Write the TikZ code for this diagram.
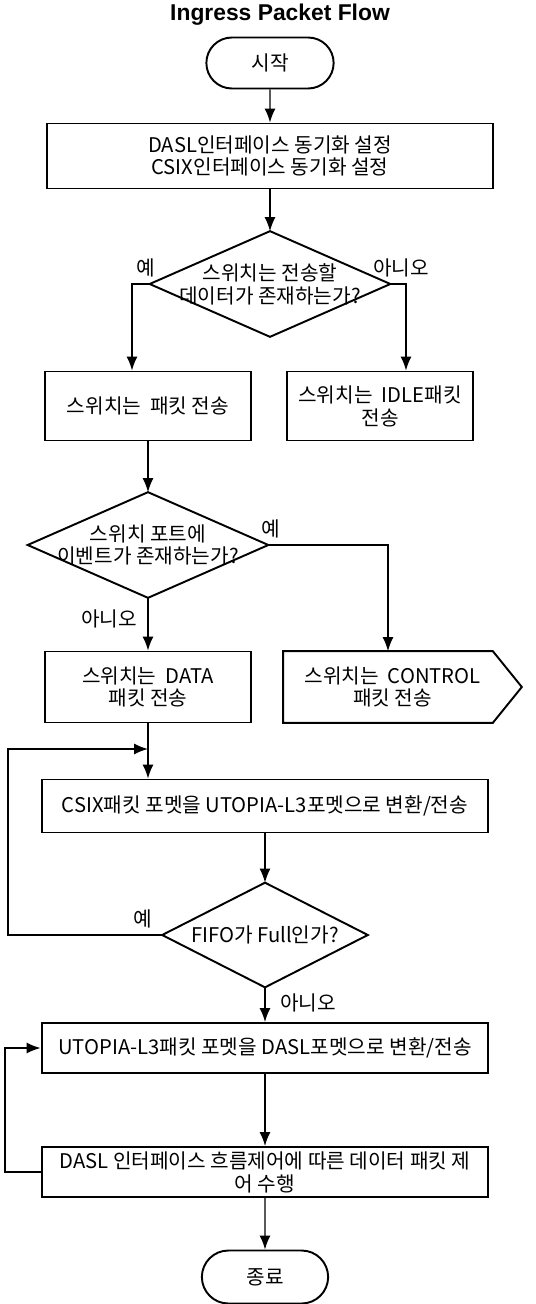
\documentclass[tikz,border=0pt]{standalone}
\usepackage{fontspec}
\setmainfont{Noto Sans CJK KR}
\newfontfamily\titlefont{Liberation Sans}
\usepackage{tikz}
\usetikzlibrary{arrows.meta,shapes.misc}

\tikzset{
  proc/.style={draw=black, line width=1.1pt, rectangle, align=center, inner sep=2pt},
  term/.style={draw=black, line width=1.1pt, rounded rectangle, minimum width=2.78cm, minimum height=1.02cm},
  decide/.style={rectangle, align=center, inner sep=0pt, minimum width=4.8cm, minimum height=2.1cm},
  flow/.style={line width=0.8pt, -{Latex[length=2.8mm,width=2.2mm]}},
  lbl/.style={inner sep=1pt}
}

\begin{document}
\begin{tikzpicture}[x=0.02cm, y=-0.02cm, font=\fontsize{11.5}{13}\selectfont]
\useasboundingbox (0,0) rectangle (535,1304);
\node (title) at (280,15) {\titlefont\bfseries\fontsize{13}{15}\selectfont Ingress Packet Flow};
\node[term] (start) at (270,63) {시작};
\node[proc, minimum width=8.94cm, minimum height=1.3cm] (init) at (270,156) {DASL인터페이스 동기화 설정\\CSIX인터페이스 동기화 설정};
\node[decide] (d1) at (270,284) {스위치는 전송할\\데이터가 존재하는가?};
\node[proc, minimum width=4.12cm, minimum height=1.38cm] (send) at (148,406) {스위치는\ \ 패킷 전송};
\node[proc, minimum width=3.72cm, minimum height=1.38cm] (idle) at (380,406) {스위치는\ \ IDLE패킷\\전송};
\node[decide] (d2) at (148,545) {스위치 포트에\\이벤트가 존재하는가?};
\node[proc, minimum width=4.12cm, minimum height=1.42cm] (data) at (148,687) {스위치는\ \ DATA\\패킷 전송};
\node[minimum width=4.18cm, minimum height=1.42cm, align=center] (ctrl) at (388,687) {\ \ 스위치는\ \ CONTROL\\\ \ 패킷 전송};
\node[proc, minimum width=8.94cm, minimum height=1.06cm] (conv1) at (265,806) {CSIX패킷 포멧을 UTOPIA-L3포멧으로 변환/전송};
\node[decide, minimum width=4.1cm, minimum height=2.08cm] (d3) at (265,935) {FIFO가 Full인가?};
\node[proc, minimum width=8.94cm, minimum height=1.0cm] (conv2) at (265,1048) {UTOPIA-L3패킷 포멧을 DASL포멧으로 변환/전송};
\node[proc, minimum width=8.94cm, minimum height=1.0cm, inner sep=1pt] (flowctl) at (265,1172) {DASL 인터페이스 흐름제어에 따른 데이터 패킷 제\\어 수행};
\node[term, minimum width=2.76cm, minimum height=1.06cm] (stop) at (265,1277) {종료};

\node[lbl] (y1) at (146,268) {예};
\node[lbl] (n1) at (401,268) {아니오};
\node[lbl] (y2) at (271,529) {예};
\node[lbl] (n2) at (109,619) {아니오};
\node[lbl] (y3) at (143,919) {예};
\node[lbl] (n3) at (308,1003) {아니오};

\foreach \d in {d1,d2,d3}
  \draw[line width=1.1pt] (\d.north) -- (\d.east) -- (\d.south) -- (\d.west) -- cycle;
\draw[line width=1.1pt] (ctrl.north west) -- (ctrl.north east) -- ([xshift=0.58cm]ctrl.east) -- (ctrl.south east) -- (ctrl.south west) -- cycle;

\coordinate (merge) at (148,749);
\coordinate (loop1) at (8,749);
\coordinate (loop2) at (5,1048);
\draw[flow] (start) -- (init);
\draw[flow] (init) -- (d1);
\draw[flow] (d1.west) -| ([xshift=-0.32cm]send.north);
\draw[flow] (d1.east) -| ([xshift=0.52cm]idle.north);
\draw[flow] (send) -- (d2);
\draw[flow] (d2) -- (data);
\draw[flow] (d2.east) -| (ctrl.north);
\draw[line width=0.8pt] (data.south) -- (merge);
\draw[flow] (merge) -- (merge |- conv1.north);
\draw[flow] (d3.west) -| (loop1) -- (merge);
\draw[flow] (conv1) -- (d3);
\draw[flow] (d3) -- (conv2);
\draw[flow] (conv2) -- (flowctl);
\draw[flow] (flowctl.west) -| (loop2) -- (conv2.west);
\draw[flow] (flowctl) -- (stop);
\end{tikzpicture}
\end{document}
